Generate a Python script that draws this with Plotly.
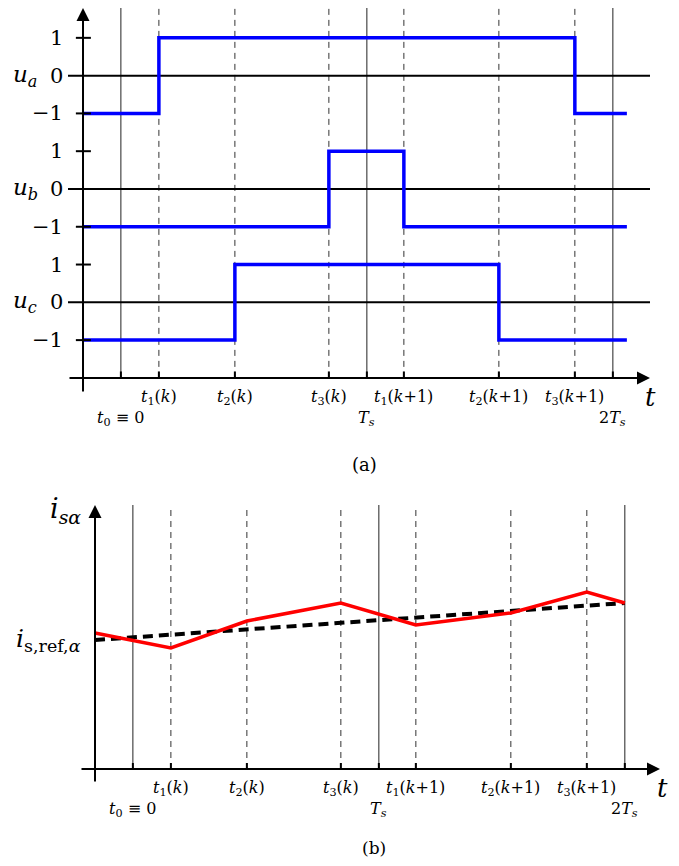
import plotly.graph_objects as go

# ---------------- data ----------------
# switching instants, in units of Ts
tick_times = [0.0, 0.1545, 0.4634, 0.8455, 1.0, 1.1504, 1.5366, 1.8455, 2.0]
tick_solid = [True, False, False, False, True, False, False, False, True]
tick_row1 = ["", "<i>t</i><sub>1</sub>(<i>k</i>)", "<i>t</i><sub>2</sub>(<i>k</i>)",
             "<i>t</i><sub>3</sub>(<i>k</i>)", "", "<i>t</i><sub>1</sub>(<i>k</i>+1)",
             "<i>t</i><sub>2</sub>(<i>k</i>+1)", "<i>t</i><sub>3</sub>(<i>k</i>+1)", ""]
tick_row2 = ["<i>t</i><sub>0</sub> ≡ 0", "", "", "", "<i>T<sub>s</sub></i>", "", "", "",
             "2<i>T<sub>s</sub></i>"]

t_start = -0.154
t_stop = 2.057

# switch positions (top panel)
ua_t = [t_start, 0.1545, 1.8455, t_stop]
ua_v = [-1, 1, -1, -1]
ub_t = [t_start, 0.8455, 1.1504, t_stop]
ub_v = [-1, 1, -1, -1]
uc_t = [t_start, 0.4634, 1.5366, t_stop]
uc_v = [-1, 1, -1, -1]
phase_names = ["<i>u<sub>a</sub></i>", "<i>u<sub>b</sub></i>", "<i>u<sub>c</sub></i>"]
level_vals = [1, 0, -1]
level_text = ["1", "0", "−1"]

# current (bottom panel)
isa_t = [t_start, 0.1545, 0.4634, 0.8455, 1.1504, 1.5366, 1.8455, 2.0]
isa_v = [1.36, 1.21, 1.48, 1.66, 1.44, 1.56, 1.77, 1.66]
ref_t = [t_start, 2.0]
ref_v = [1.29, 1.66]

# ---------------- layout helpers ----------------
PAGE_W, PAGE_H = 679, 866
BODY = 8  # default page margin around the plot div
W, H = PAGE_W - 2 * BODY, PAGE_H - 2 * BODY
FONT = "DejaVu Serif"
CAP_FONT = "Liberation Serif, DejaVu Serif, serif"


def fx(px):
    return (px - BODY) / W


def fy(py):
    return 1 - (py - BODY) / H


offsets = [6, 3, 0]  # vertical stacking of the three phases

fig = go.Figure()

TOP_X = dict(domain=[fx(68), fx(650)], range=[-0.215, 2.151])
TOP_Y = dict(domain=[fy(393), fy(8)], range=[-2.4, 7.79])
BOT_X = dict(domain=[fx(80), fx(660)], range=[-0.215, 2.143])
BOT_Y = dict(domain=[fy(784), fy(504)], range=[-0.15, 2.65])

shapes = []
annotations = []

# ----- top panel -----
for tt, solid in zip(tick_times, tick_solid):
    shapes.append(dict(type="line", xref="x", yref="y", x0=tt, x1=tt, y0=-2, y1=7.79,
                       layer="below",
                       line=dict(color="#222222" if solid else "#333333", width=1,
                                 dash="solid" if solid else "6px,5px")))
    shapes.append(dict(type="line", xref="x", yref="y", x0=tt, x1=tt, y0=-2, y1=-1.83,
                       line=dict(color="black", width=2)))
for off in offsets:
    shapes.append(dict(type="line", xref="x", yref="y", x0=-0.215, x1=2.151, y0=off, y1=off,
                       layer="below", line=dict(color="black", width=2)))
    for lv in (1, -1):
        shapes.append(dict(type="line", xref="x", yref="y", x0=-0.183, x1=-0.122,
                           y0=off + lv, y1=off + lv, line=dict(color="black", width=2)))

for name, tt, vv, off in zip(phase_names, [ua_t, ub_t, uc_t], [ua_v, ub_v, uc_v], offsets):
    fig.add_trace(go.Scatter(x=tt, y=[v + off for v in vv], mode="lines", line_shape="hv",
                             line=dict(color="#0000ff", width=3.5), showlegend=False,
                             xaxis="x", yaxis="y", hoverinfo="skip"))
    for lv, lt in zip(level_vals, level_text):
        annotations.append(dict(xref="paper", yref="y", x=fx(65), y=off + lv, text=lt,
                                xanchor="right", yanchor="middle", showarrow=False,
                                font=dict(size=21, family=FONT, color="black")))
    annotations.append(dict(xref="paper", yref="y", x=fx(25), y=off, text=name,
                            xanchor="center", yanchor="middle", showarrow=False,
                            font=dict(size=23, family=FONT, color="black")))

# axes arrows top
annotations.append(dict(xref="x", yref="y", axref="x", ayref="y", x=2.151, y=-2,
                        ax=-0.215, ay=-2, text="", showarrow=True, arrowhead=2,
                        arrowsize=1.3, arrowwidth=2, arrowcolor="black"))
annotations.append(dict(xref="x", yref="y", axref="x", ayref="y", x=-0.154, y=7.79,
                        ax=-0.154, ay=-2.4, text="", showarrow=True, arrowhead=2,
                        arrowsize=1.3, arrowwidth=2, arrowcolor="black"))

# ----- bottom panel -----
for tt, solid in zip(tick_times, tick_solid):
    shapes.append(dict(type="line", xref="x2", yref="y2", x0=tt, x1=tt, y0=0, y1=2.64,
                       layer="below",
                       line=dict(color="#222222" if solid else "#333333", width=1,
                                 dash="solid" if solid else "6px,5px")))
    shapes.append(dict(type="line", xref="x2", yref="y2", x0=tt, x1=tt, y0=0, y1=0.06,
                       line=dict(color="black", width=2)))

fig.add_trace(go.Scatter(x=ref_t, y=ref_v, mode="lines",
                         line=dict(color="black", width=4, dash="10px,6px"),
                         showlegend=False, xaxis="x2", yaxis="y2", hoverinfo="skip"))
fig.add_trace(go.Scatter(x=isa_t, y=isa_v, mode="lines",
                         line=dict(color="#ff0000", width=3.5),
                         showlegend=False, xaxis="x2", yaxis="y2", hoverinfo="skip"))

annotations.append(dict(xref="x2", yref="y2", axref="x2", ayref="y2", x=2.143, y=0,
                        ax=-0.215, ay=0, text="", showarrow=True, arrowhead=2,
                        arrowsize=1.3, arrowwidth=2, arrowcolor="black"))
annotations.append(dict(xref="x2", yref="y2", axref="x2", ayref="y2", x=-0.154, y=2.64,
                        ax=-0.154, ay=-0.14, text="", showarrow=True, arrowhead=2,
                        arrowsize=1.3, arrowwidth=2, arrowcolor="black"))

annotations.append(dict(xref="paper", yref="paper", x=fx(83), y=fy(510),
                        text="<i>i<sub>sα</sub></i>", xanchor="right", yanchor="middle",
                        showarrow=False, font=dict(size=27, family=FONT, color="black")))
annotations.append(dict(xref="paper", yref="y2", x=fx(83), y=ref_v[0],
                        text="<i>i</i><sub>s,ref,<i>α</i></sub>", xanchor="right",
                        yanchor="middle", showarrow=False,
                        font=dict(size=25, family=FONT, color="black")))

# ----- tick labels (both panels) -----
for xr, ax_px, tlabel_px in (("x", 378, 650), ("x2", 769, 662)):
    for tt, r1, r2 in zip(tick_times, tick_row1, tick_row2):
        if r1:
            annotations.append(dict(xref=xr, yref="paper", x=tt, y=fy(ax_px + 19),
                                    text=r1, showarrow=False, xanchor="center",
                                    yanchor="middle",
                                    font=dict(size=16, family=FONT, color="black")))
        if r2:
            annotations.append(dict(xref=xr, yref="paper", x=tt, y=fy(ax_px + 40),
                                    text=r2, showarrow=False, xanchor="center",
                                    yanchor="middle",
                                    font=dict(size=16, family=FONT, color="black")))
    annotations.append(dict(xref="paper", yref="paper", x=fx(tlabel_px),
                            y=fy(ax_px + 19), text="<i>t</i>", showarrow=False,
                            xanchor="center", yanchor="middle",
                            font=dict(size=26, family=FONT, color="black")))

annotations.append(dict(xref="paper", yref="paper", x=fx(364), y=fy(465), text="(a)",
                        showarrow=False, xanchor="center", yanchor="middle",
                        font=dict(size=18, family=FONT, color="black")))
annotations.append(dict(xref="paper", yref="paper", x=fx(374), y=fy(848), text="(b)",
                        showarrow=False, xanchor="center", yanchor="middle",
                        font=dict(size=17, family=FONT, color="black")))

hidden = dict(visible=False, fixedrange=True)
fig.update_layout(
    width=W, height=H,
    margin=dict(l=0, r=0, t=0, b=0),
    paper_bgcolor="white", plot_bgcolor="white",
    font=dict(family=FONT, color="black"),
    xaxis=dict(**TOP_X, **hidden, anchor="y"),
    yaxis=dict(**TOP_Y, **hidden, anchor="x"),
    xaxis2=dict(**BOT_X, **hidden, anchor="y2"),
    yaxis2=dict(**BOT_Y, **hidden, anchor="x2"),
    shapes=shapes,
    annotations=annotations,
    showlegend=False,
)

fig.write_html("out.html")
